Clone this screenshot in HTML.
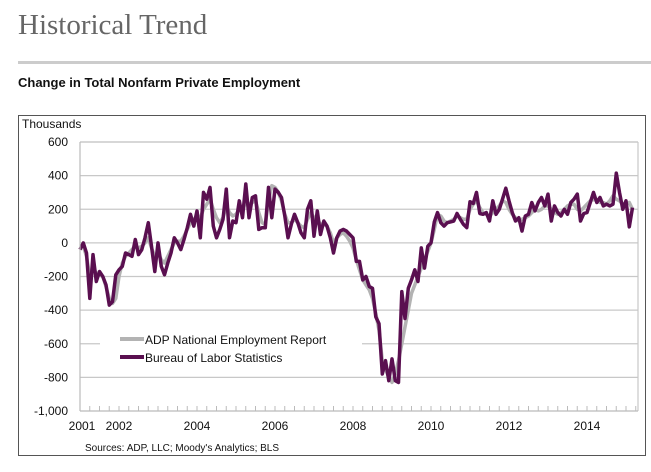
<!DOCTYPE html>
<html><head><meta charset="utf-8"><style>
body{margin:0;background:#fff;width:651px;height:467px;overflow:hidden;font-family:"Liberation Sans",sans-serif}
</style></head><body>
<svg id="chart" width="651" height="467" xmlns="http://www.w3.org/2000/svg">
<text x="18" y="34" font-family="Liberation Serif,serif" font-size="29" fill="#666">Historical Trend</text>
<rect x="18" y="61" width="633" height="3" fill="#ccc"/>
<text x="18" y="87" font-size="13" font-weight="bold" fill="#111">Change in Total Nonfarm Private Employment</text>
<rect x="18.5" y="115.5" width="627" height="340" fill="none" stroke="#555" stroke-width="1"/>
<text x="22" y="128" font-size="12" fill="#111">Thousands</text>
<g id="grid"></g><g id="series"></g><g id="axes"></g>
<g>
<rect x="100" y="328" width="262" height="40" fill="#fff"/>
<line x1="120" y1="339" x2="144" y2="339" stroke="#b3b3b3" stroke-width="4"/>
<text x="145" y="344" font-size="12" fill="#111">ADP National Employment Report</text>
<line x1="120" y1="357" x2="144" y2="357" stroke="#5a0f50" stroke-width="4"/>
<text x="145" y="362" font-size="12" fill="#111">Bureau of Labor Statistics</text>
</g>
<text x="85" y="451" font-size="10" fill="#111">Sources: ADP, LLC; Moody's Analytics; BLS</text>
</svg>
<script>
const yTicks=[600,400,200,0,-200,-400,-600,-800,-1000];
const yTickLabels=["600","400","200","0","-200","-400","-600","-800","-1,000"];
const xYears=[2001,2002,2004,2006,2008,2010,2012,2014];
const startYear=2001;
const bls=[-40,0,-60,-330,-70,-230,-170,-200,-250,-370,-350,-190,
-160,-140,-60,-70,-80,20,-70,-40,30,120,-20,-170,
0,-140,-190,-120,-60,30,0,-40,20,90,170,100,
190,30,300,260,330,100,30,80,140,320,30,130,
120,250,150,350,150,270,280,80,90,90,330,150,
320,300,270,160,30,110,170,120,60,30,200,250,
40,190,50,130,100,30,-60,30,70,80,70,50,
30,-110,-110,-220,-200,-260,-270,-440,-480,-780,-700,-820,
-690,-820,-830,-290,-450,-270,-220,-160,-230,-30,-150,-20,
0,125,180,120,100,120,125,130,175,140,110,90,
245,235,300,175,170,180,130,250,170,200,260,325,
250,180,130,150,70,160,170,240,190,240,270,220,
290,130,220,180,160,200,170,240,260,290,130,175,
180,240,300,240,270,220,230,220,230,415,300,200,
250,95,210];
const adp=[-30,-20,-80,-200,-150,-180,-190,-200,-260,-330,-360,-330,
-200,-120,-80,-60,-40,-20,-30,-20,0,30,-30,-80,
-60,-100,-120,-80,-40,0,10,10,40,80,120,140,
160,150,200,230,260,200,150,120,150,220,180,160,
170,200,190,250,230,240,250,180,120,110,250,340,
330,300,250,170,120,120,140,120,100,90,140,180,
150,140,110,110,100,60,0,30,50,60,40,10,
-30,-100,-160,-220,-250,-280,-330,-420,-520,-700,-750,-800,
-830,-780,-700,-600,-500,-400,-300,-250,-200,-150,-100,-50,
0,80,170,160,130,120,130,140,160,150,140,140,
200,230,250,210,180,170,160,180,200,220,250,240,
200,170,150,130,140,150,160,180,200,190,200,220,
220,200,180,170,180,200,220,230,230,200,190,210,
230,250,260,250,240,240,230,250,280,260,250,230,
230,240,200];
const NS="http://www.w3.org/2000/svg";
const L=80,R=638,T=142,B=411,ymin=-1000,ymax=600,pxPerMonth=3.25;
function y(v){return B-(v-ymin)/(ymax-ymin)*(B-T);}
function x(m){return L+m*pxPerMonth;}
function mk(tag,attrs,parent){const e=document.createElementNS(NS,tag);for(const k in attrs)e.setAttribute(k,attrs[k]);parent.appendChild(e);return e;}
const grid=document.getElementById('grid'),axes=document.getElementById('axes'),ser=document.getElementById('series');
yTicks.forEach((v,i)=>{
  if(v!==ymin){const g=mk('line',{x1:L,x2:R,y1:y(v),y2:y(v),stroke:'#c8c8c8','stroke-width':1.2},grid);
  
  }
  const t=mk('text',{x:68,y:y(v)+4,'text-anchor':'end','font-size':12,fill:'#111'},axes);
  t.textContent=yTickLabels[i];
  
  
});
const rb=mk('line',{x1:R,x2:R,y1:T,y2:B,stroke:'#c8c8c8','stroke-width':1.2},grid);


const tb=mk('line',{x1:L,x2:R,y1:T,y2:T,stroke:'#c8c8c8','stroke-width':1.2},grid);


const ya=mk('line',{x1:L,x2:L,y1:T,y2:B,stroke:'#bbb','stroke-width':1.2},axes);


const xa=mk('line',{x1:L,x2:R,y1:B,y2:B,stroke:'#bbb','stroke-width':1.2},axes);


for(let m=0;x(m)<=R;m+=3){const tk=mk('line',{x1:x(m),x2:x(m),y1:B,y2:B-5,stroke:'#bbb','stroke-width':1},axes);

}
xYears.forEach(yr=>{const t=mk('text',{x:x((yr-startYear)*12)+(yr===startYear?2:0),y:430,'text-anchor':'middle','font-size':12,fill:'#111'},axes);
t.textContent=yr;

});
function path(arr){return arr.map((v,i)=>(i?'L':'M')+x(i).toFixed(1)+','+y(v).toFixed(1)).join('');}
const pa=mk('path',{d:path(adp),fill:'none',stroke:'#b3b3b3','stroke-width':3.5,'stroke-linejoin':'round'},ser);


const pb=mk('path',{d:path(bls),fill:'none',stroke:'#5a0f50','stroke-width':3.5,'stroke-linejoin':'round'},ser);


</script>
</body></html>
